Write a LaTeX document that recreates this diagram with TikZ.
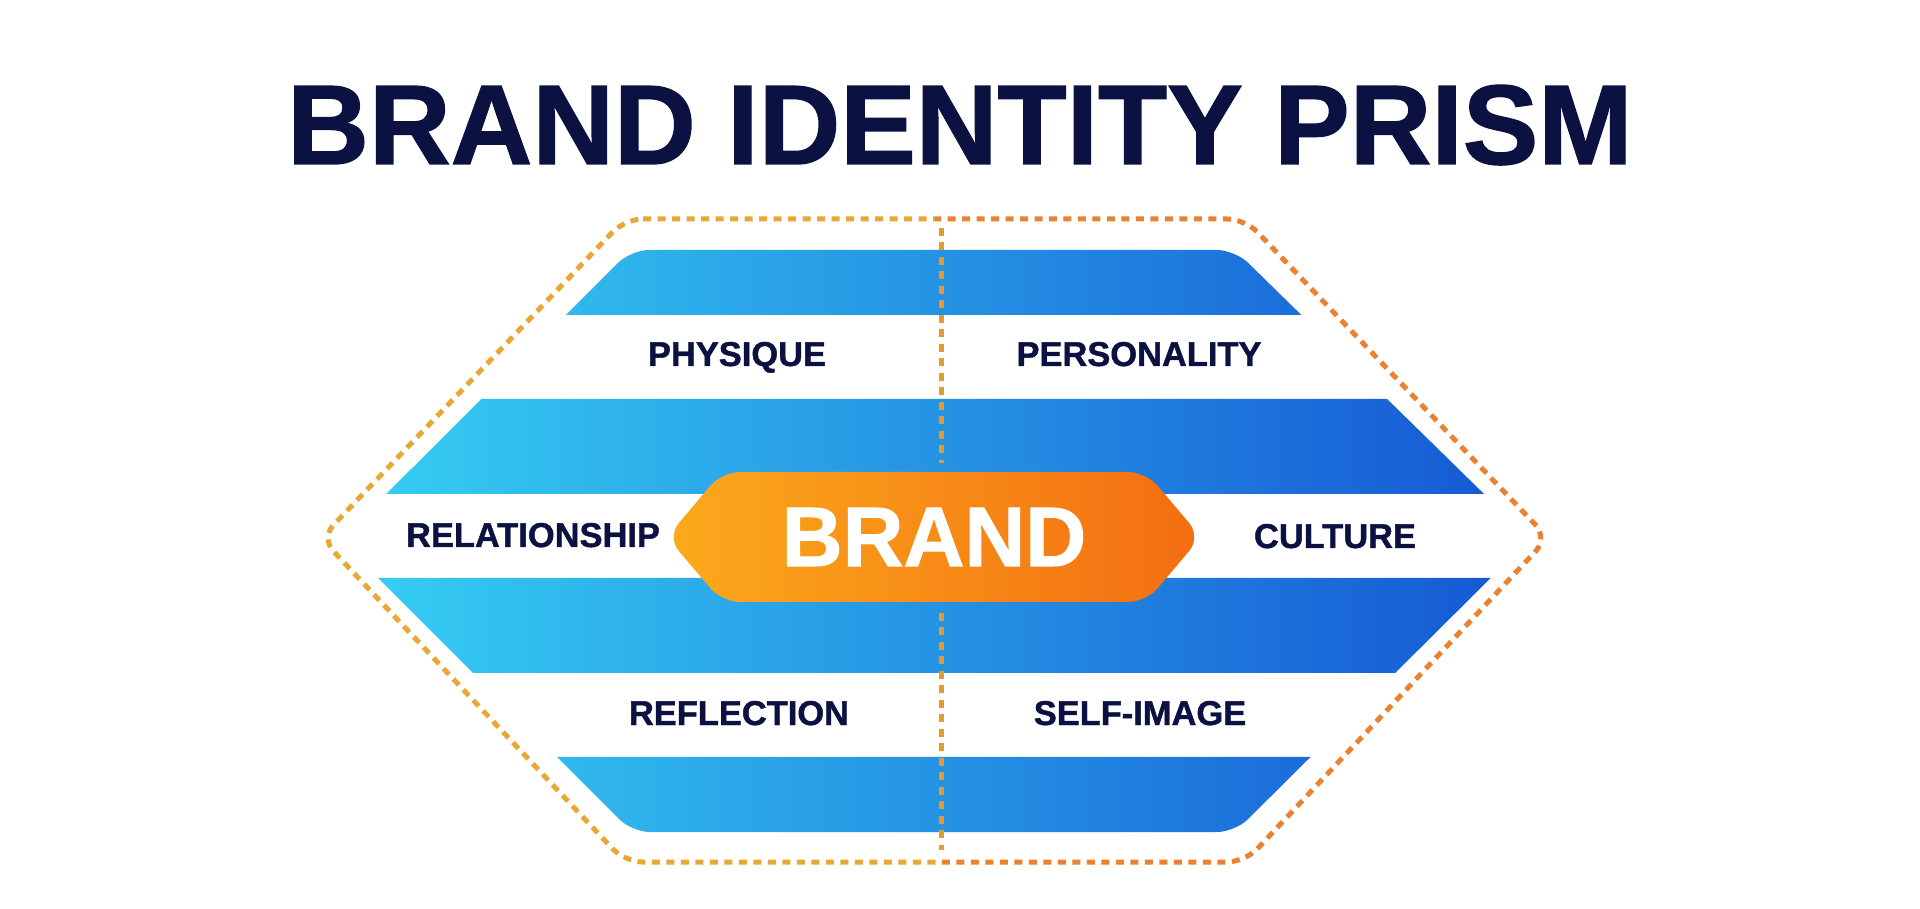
\documentclass[tikz,border=0pt]{standalone}
\usepackage{fontspec}
\setmainfont{Liberation Sans}
\newfontfamily\heavy{Liberation Sans}[BoldFeatures={FakeBold=1.2}]
\usetikzlibrary{calc}

\definecolor{navy}{HTML}{0B1241}
\definecolor{bandL}{HTML}{36D0F3}
\definecolor{bandR}{HTML}{1556D4}
\definecolor{coreL}{HTML}{FBAA1C}
\definecolor{coreR}{HTML}{F46D12}
\definecolor{rimL}{HTML}{E9A736}
\definecolor{rimR}{HTML}{EA8231}
\definecolor{spineC}{HTML}{E49A33}

\tikzset{
  heading/.style={font=\fontsize{32.2pt}{38pt}\heavy\bfseries, text=navy, anchor=base, inner sep=0pt},
  facet/.style={font=\fontsize{9.8pt}{12pt}\heavy\bfseries, text=navy, anchor=base, inner sep=0pt},
  core/.style={font=\fontsize{24pt}{29pt}\heavy\bfseries, text=white, anchor=base, inner sep=0pt},
  rim/.style={line width=0.5mm, dash pattern=on 0.8mm off 0.65mm, rounded corners=1.8mm},
  spine/.style={line width=0.5mm, dash pattern=on 0.8mm off 0.65mm, color=spineC}
}

\begin{document}
\begin{tikzpicture}[x=0.1mm, y=-0.1mm]
			%%%%% START %%%%%
			\useasboundingbox (0,0) rectangle (1920,909);
			\fill[white] (0,0) rectangle (1920,909);
			
			\node[heading] (title) at (960,164) {BRAND IDENTITY PRISM};
			
			% blue bands
			\begin{scope}
				\clip[rounded corners=1.8mm] (631,250) -- (1235,250) -- (1530,539) -- (1235,832) -- (632,832) -- (340,540) -- cycle;
				\clip (300,250) rectangle (1600,315) (300,399) rectangle (1600,494)
				      (300,578) rectangle (1600,673) (300,757) rectangle (1600,832);
				\shade[left color=bandL, right color=bandR] (340,240) rectangle (1530,840);
			\end{scope}
			
			% dotted rim, two tones
			\begin{scope}
				\clip (0,0) rectangle (935,909);
				\draw[rim, color=rimL] (625,219) -- (1245,219) -- (1548,538) -- (1245,862) -- (625,862) -- (321,538) -- cycle;
			\end{scope}
			\begin{scope}
				\clip (935,0) rectangle (1920,909);
				\draw[rim, color=rimR] (625,219) -- (1245,219) -- (1548,538) -- (1245,862) -- (625,862) -- (321,538) -- cycle;
			\end{scope}
			
			\coordinate (spinetop) at (941,228);
			\coordinate (spineup) at (941,463);
			\coordinate (spinelow) at (941,613);
			\coordinate (spinebot) at (941,850);
			\draw[spine] (spinetop) -- (spineup);
			\draw[spine] (spinelow) -- (spinebot);
			
			% brand core
			\shade[left color=coreL, right color=coreR, rounded corners=1.8mm]
				(722,472) -- (1146,472) -- (1201,537) -- (1146,602) -- (722,602) -- (667,537) -- cycle;
			\node[core] (brand) at (934,566) {BRAND};
			
			\node[facet] (physique) at (737,366) {PHYSIQUE};
			\node[facet] (personality) at (1139,366) {PERSONALITY};
			\node[facet] (relationship) at (533,547) {RELATIONSHIP};
			\node[facet] (culture) at (1335,548) {CULTURE};
			\node[facet] (reflection) at (739,725) {REFLECTION};
			\node[facet] (selfimage) at (1140,725) {SELF-IMAGE};
			
			%%%%% END %%%%%
		\end{tikzpicture}
\end{document}
